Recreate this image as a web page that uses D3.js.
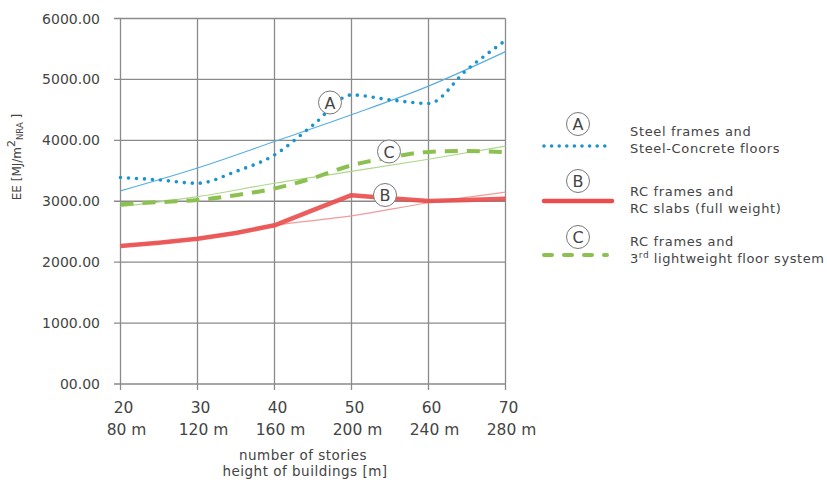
<!DOCTYPE html>
<html><head><meta charset="utf-8">
<script src="https://cdn.jsdelivr.net/npm/d3@7"></script>
<style>
body{margin:0;background:#fff;}
text{font-family:"DejaVu Sans",Verdana,sans-serif;fill:#444;}
</style></head>
<body><svg id="c" width="827" height="484"></svg>
<script>
const stories = [20,25,30,35,40,45,50,55,60,65,70];
const seriesA = [3390,3350,3295,3490,3760,4250,4745,4665,4605,5160,5640];
const seriesB = [2265,2320,2385,2480,2605,2855,3100,3050,3005,3020,3040];
const seriesC = [2950,2985,3020,3100,3210,3380,3590,3720,3810,3825,3805];
const trendX = [20,30,40,50,60,70];
const trendA = [3170,3545,3980,4420,4890,5456];
const trendB = [2265,2390,2605,2760,2975,3150];
const trendC = [2910,3075,3295,3490,3690,3905];
const xTicks = [20,30,40,50,60,70];
const heightLabels = ["80 m","120 m","160 m","200 m","240 m","280 m"];
const yTicks = [0,1000,2000,3000,4000,5000,6000];
const yTickLabels = ["00.00","1000.00","2000.00","3000.00","4000.00","5000.00","6000.00"];
const legendLetters = ["A","B","C"];
const legendLines1 = ["Steel frames and","RC frames and","RC frames and"];
const legendLines2 = ["Steel-Concrete floors","RC slabs (full weight)",null];

const svg = d3.select("#c");
const x = d3.scaleLinear().domain([20,70]).range([120.5,505.5]);
const y = d3.scaleLinear().domain([0,6000]).range([384,18.5]);
const grid = "#8a8a8a";

// grid
const g = svg.append("g");
g.selectAll(".hg").data(yTicks).join("line")
 .attr("x1",114).attr("x2",x(70)).attr("y1",d=>y(d)).attr("y2",d=>y(d))
 .attr("stroke",grid).attr("stroke-width",1.3);
g.selectAll(".vg").data(xTicks).join("line")
 .attr("x1",d=>x(d)).attr("x2",d=>x(d)).attr("y1",y(6000)).attr("y2",390)
 .attr("stroke",grid).attr("stroke-width",1.3);

// y tick labels
svg.selectAll(".yl").data(yTicks).join("text")
 .attr("x",100).attr("y",d=>y(d)+5).attr("text-anchor","end")
 .attr("font-size",14).text((d,i)=>yTickLabels[i]);
// x tick labels
svg.selectAll(".xl").data(xTicks).join("text")
 .attr("x",d=>x(d)+3).attr("y",413).attr("text-anchor","middle")
 .attr("font-size",15.5).text(d=>d);
svg.selectAll(".xl2").data(xTicks).join("text")
 .attr("x",d=>x(d)+6).attr("y",435).attr("text-anchor","middle")
 .attr("font-size",15.5).text((d,i)=>heightLabels[i]);
svg.append("text").attr("x",303).attr("y",460).attr("text-anchor","middle").attr("font-size",13.5).attr("letter-spacing",0.5).text("number of stories");
svg.append("text").attr("x",305).attr("y",476).attr("text-anchor","middle").attr("font-size",13.5).attr("letter-spacing",0.5).text("height of buildings [m]");

// y label
const yl = svg.append("text").attr("transform","translate(21,157) rotate(-90)").attr("text-anchor","middle").attr("font-size",12);
yl.append("tspan").text("EE [MJ/m");
yl.append("tspan").attr("dy",-6).attr("font-size",11).text("2");
yl.append("tspan").attr("dy",8).attr("font-size",8.5).text("NRA");
yl.append("tspan").attr("dy",-2).text(" ]");

const blue="#1b93cf", red="#ea4d4d", green="#8cc152";
const line = (xs,vs,curve)=>d3.line().x((d,i)=>x(xs[i])).y(d=>y(d)).curve(curve)(vs);

// trend lines
svg.append("path").attr("d",line(trendX,trendA,d3.curveMonotoneX)).attr("fill","none").attr("stroke","#5aaee0").attr("stroke-width",1.2);
svg.append("path").attr("d",line(trendX,trendC,d3.curveMonotoneX)).attr("fill","none").attr("stroke","#add88e").attr("stroke-width",1.2);
svg.append("path").attr("d",line(trendX,trendB,d3.curveMonotoneX)).attr("fill","none").attr("stroke","#f39a9a").attr("stroke-width",1.2);

// main series
svg.append("path").attr("d",line(stories,seriesB,d3.curveLinear)).attr("fill","none").attr("stroke",red).attr("stroke-width",4.5).attr("stroke-opacity",0.9).attr("stroke-linejoin","round");
svg.append("path").attr("d",line(stories,seriesC,d3.curveMonotoneX)).attr("fill","none").attr("stroke",green).attr("stroke-width",4).attr("stroke-dasharray","13 9");
svg.append("path").attr("d",line(stories,seriesA,d3.curveMonotoneX)).attr("fill","none").attr("stroke",blue).attr("stroke-width",3.6).attr("stroke-linecap","round").attr("stroke-dasharray","0 8");

// circle labels
function badge(cx,cy,t){
  svg.append("circle").attr("cx",cx).attr("cy",cy).attr("r",11.5).attr("fill","#fff").attr("stroke","#777").attr("stroke-width",1);
  svg.append("text").attr("x",cx).attr("y",cy+6).attr("text-anchor","middle").attr("font-size",16).attr("fill","#333").text(t);
}
badge(330,102.5,"A");
badge(385,195,"B");
badge(389,151.5,"C");

// legend
const lg = [{cy:124,ly:146,t1:136,t2:152.5},{cy:181,ly:201,t1:196,t2:212.5},{cy:237,ly:255,t1:246,t2:262.5}];
lg.forEach((o,i)=>{
  badge(578,o.cy,legendLetters[i]);
  const ln = svg.append("line").attr("x1",544).attr("x2",i===2?607:612).attr("y1",o.ly).attr("y2",o.ly);
  if(i===0) ln.attr("stroke",blue).attr("stroke-width",3.6).attr("stroke-linecap","round").attr("stroke-dasharray","0 7.6");
  if(i===1) ln.attr("stroke",red).attr("stroke-width",4.5).attr("stroke-linecap","round");
  if(i===2) ln.attr("stroke",green).attr("stroke-width",4).attr("stroke-linecap","round").attr("stroke-dasharray","8 12");
  svg.append("text").attr("x",630).attr("y",o.t1).attr("font-size",13).attr("letter-spacing",0.65).text(legendLines1[i]);
  if(legendLines2[i]) svg.append("text").attr("x",630).attr("y",o.t2).attr("font-size",13).attr("letter-spacing",0.65).text(legendLines2[i]);
  else {
    const t = svg.append("text").attr("x",630).attr("y",o.t2).attr("font-size",13).attr("letter-spacing",0.55);
    t.append("tspan").text("3");
    t.append("tspan").attr("dy",-5).attr("font-size",9).text("rd");
    t.append("tspan").attr("dy",5).text(" lightweight floor system");
  }
});
</script></body></html>
